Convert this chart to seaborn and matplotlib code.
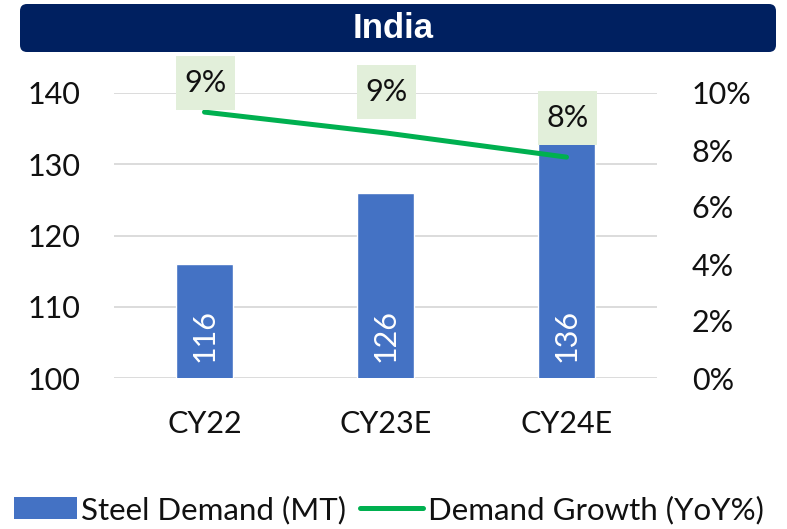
import numpy as np
import pandas as pd
import matplotlib
matplotlib.use("Agg")
import matplotlib.pyplot as plt
import seaborn as sns
from matplotlib.patches import FancyBboxPatch, Patch
from matplotlib.lines import Line2D
from matplotlib.path import Path

# ---- data ----
categories = ["CY22", "CY23E", "CY24E"]
steel_demand = [116, 126, 136]          # MT
demand_growth = [9.33, 8.6, 7.75]       # YoY %
left_ticks = [100, 110, 120, 130, 140]
right_ticks = [0, 2, 4, 6, 8, 10]
title = "India"
legend_labels = ["Steel Demand (MT)", "Demand Growth (YoY%)"]

# ---- style ----
BAR = "#4472C4"
LINE = "#00B050"
NAVY = "#002060"
LBLBOX = "#E2EFDA"
GRID = "#D9D9D9"
TXT = "#111111"
FONT = "Lato"
FS = 22

sns.set_theme(style="white")
plt.rcParams["font.family"] = [FONT, "DejaVu Sans"]

W, H = 787, 529
fig = plt.figure(figsize=(W / 100, H / 100), dpi=100)
ax = fig.add_axes([114 / W, 1 - 378 / H, (657 - 114) / W, (378 - 93) / H])

df = pd.DataFrame({"cat": categories, "demand": steel_demand})
sns.barplot(data=df, x="cat", y="demand", color=BAR, width=0.31, ax=ax,
            saturation=1, zorder=2)
ax.set_ylim(left_ticks[0], left_ticks[-1])
ax.set_yticks(left_ticks)
ax.set_xlim(-0.5, len(categories) - 0.5)
ax.grid(axis="y", color=GRID, lw=1.3, zorder=0)
ax.set_axisbelow(True)
ax.set_xlabel("")
ax.set_ylabel("")
for s in ax.spines.values():
    s.set_visible(False)
ax.tick_params(axis="y", length=0, pad=24, labelsize=FS, labelcolor=TXT)
ax.tick_params(axis="x", length=0, pad=23, labelsize=FS, labelcolor=TXT)

# bar value labels (inside base, rotated)
for i, v in enumerate(steel_demand):
    ax.text(i, 106, f"{v}", rotation=90, ha="center", va="center",
            color="white", fontsize=FS, zorder=3)

# secondary axis line
ax2 = ax.twinx()
sns.lineplot(x=np.arange(len(categories)), y=demand_growth, ax=ax2,
             color=LINE, lw=3.6, zorder=4)
for l in ax2.lines:
    l.set_solid_capstyle("round")
ax2.set_ylim(right_ticks[0], right_ticks[-1])
ax2.set_yticks(right_ticks)
ax2.set_yticklabels([f"{t}%" for t in right_ticks])
for s in ax2.spines.values():
    s.set_visible(False)
ax2.tick_params(axis="y", length=0, pad=25, labelsize=FS, labelcolor=TXT)
ax2.grid(False)


def label_box(x0, y0, width, height, mutation_size):
    px = 0.28 * mutation_size
    py = 0.42 * mutation_size
    x1, y1 = x0 + width + px, y0 + height + py
    x0, y0 = x0 - px, y0 - py
    return Path([(x0, y0), (x1, y0), (x1, y1), (x0, y1), (x0, y0)],
                closed=True)


label_offsets_px = [29, 41, 39]
for i, (g, off) in enumerate(zip(demand_growth, label_offsets_px)):
    ax2.annotate(f"{g:.0f}%", (i, g), xytext=(1, off), textcoords="offset pixels",
                 ha="center", va="center", fontsize=FS, color=TXT, zorder=6,
                 annotation_clip=False,
                 bbox=dict(boxstyle=label_box, fc=LBLBOX, ec="none"))

# title banner
banner = FancyBboxPatch((20, H - 52), 756, 48,
                        boxstyle="round,pad=0,rounding_size=7",
                        transform=None, fc=NAVY, ec="none", zorder=0)
fig.patches.append(banner)
fig.text(0.5, 1 - 29 / H, title, ha="center", va="center", color="white",
         fontsize=25, fontweight="bold", family="Liberation Sans")

# legend
handles = [Patch(fc=BAR, ec="none"), Line2D([0], [0], color=LINE, lw=3.6)]
fig.legend(handles, legend_labels, loc="center", bbox_to_anchor=(0.494, 1 - 510 / H),
           ncol=2, frameon=False, fontsize=22.5, handlelength=2.0,
           handletextpad=0.15, columnspacing=0.45, labelcolor=TXT,
           borderaxespad=0)

fig.savefig("out.png", dpi=100)
